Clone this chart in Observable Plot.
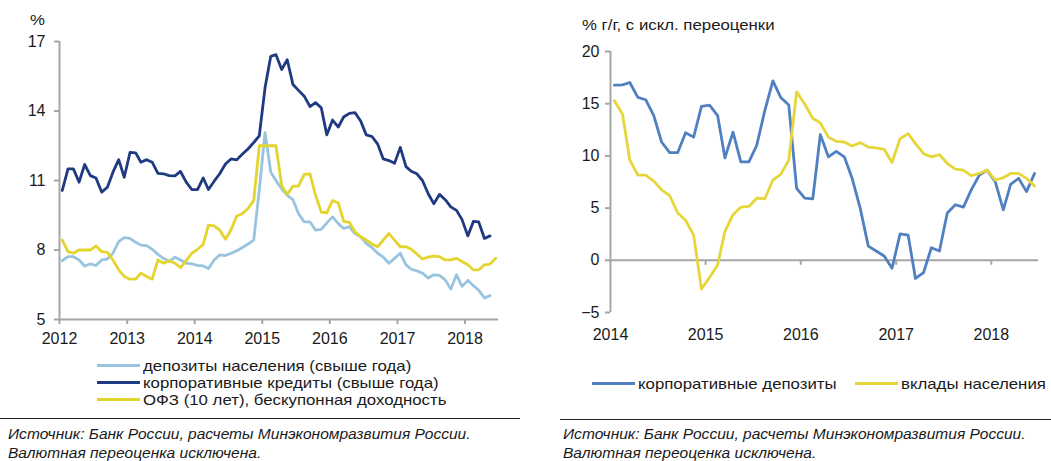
<!DOCTYPE html>
<html>
<head>
<meta charset="utf-8">
<script src="https://cdn.jsdelivr.net/npm/d3@7"></script>
<script src="https://cdn.jsdelivr.net/npm/@observablehq/plot@0.6"></script>
<style>
  html, body { margin: 0; padding: 0; background: #fff; }
  #root { position: relative; width: 1051px; height: 461px; overflow: hidden; font-family: "Liberation Sans", Arial, sans-serif; color: #1a1a1a; }
  .abs { position: absolute; white-space: nowrap; transform: scaleX(1.12); transform-origin: left center; }
  .unit { font-size: 15px; }
  .legend-row { position: absolute; display: flex; align-items: center; font-size: 15px; height: 17px; white-space: nowrap; }
  .legend-row .lbl { display: inline-block; transform: scaleX(1.12); transform-origin: left center; }
  .sw { display: inline-block; width: 43px; height: 3px; margin-right: 3px; }
  .rule { position: absolute; height: 0; border-top: 1.6px solid #222; }
  .src { position: absolute; font-style: italic; font-size: 14px; line-height: 19px; white-space: nowrap; color: #1a1a1a; transform: scaleX(1.11); transform-origin: left top; }
</style>
</head>
<body>
<div id="root"></div>
<script>
// ---------- DATA ----------
const leftYears = [2012, 2013, 2014, 2015, 2016, 2017, 2018];
const leftTicksY = [5, 8, 11, 14, 17];
const leftNames = ["депозиты населения (свыше года)", "корпоративные кредиты (свыше года)", "ОФЗ (10 лет), бескупонная доходность"];
const leftColors = ["#98c4e0", "#1f3a82", "#e4d42e"];
// monthly, from Jan 2012
const householdDeposits = [7.54,7.71,7.71,7.57,7.31,7.40,7.33,7.57,7.61,7.86,
  8.36,8.53,8.50,8.33,8.21,8.19,8.03,7.81,7.64,7.50,
  7.69,7.57,7.43,7.40,7.34,7.31,7.20,7.57,7.79,7.76,
  7.86,7.97,8.11,8.26,8.43,10.6,13.07,11.36,11.0,10.64,
  10.36,10.17,9.57,9.21,9.21,8.86,8.89,9.17,9.43,9.14,
  8.93,9.0,8.71,8.57,8.29,8.10,7.86,7.69,7.43,7.64,
  7.86,7.36,7.17,7.10,7.0,6.79,6.93,6.90,6.71,6.31,
  6.93,6.43,6.69,6.46,6.26,5.93,6.03];
const corporateCredits = [10.57,11.5,11.5,10.93,11.69,11.21,11.11,10.5,10.71,11.36,
  11.9,11.14,12.21,12.19,11.79,11.9,11.79,11.31,11.29,11.21,
  11.2,11.39,10.93,10.61,10.61,11.11,10.61,10.97,11.29,11.71,
  11.93,11.89,12.14,12.36,12.64,12.93,15.0,16.36,16.43,15.79,
  16.21,15.14,14.89,14.64,14.19,14.36,14.14,12.97,13.61,13.31,
  13.74,13.9,13.93,13.57,12.97,12.9,12.57,11.93,11.86,11.74,
  12.43,11.6,11.4,11.29,11.0,10.43,10.0,10.4,10.17,9.86,
  9.71,9.31,8.61,9.24,9.21,8.5,8.61];
const ofzYield = [8.43,7.93,7.86,8.0,8.0,8.0,8.17,7.93,7.9,7.57,
  7.14,6.86,6.74,6.74,7.0,6.86,6.74,7.57,7.43,7.54,
  7.43,7.24,7.54,7.86,8.03,8.24,9.07,9.04,8.86,8.46,
  8.86,9.47,9.57,9.79,10.14,12.5,12.5,12.5,12.5,10.79,
  10.4,10.76,10.76,11.26,11.29,10.36,9.64,9.6,10.14,10.03,
  9.24,9.19,8.79,8.57,8.43,8.26,8.14,8.43,8.71,8.43,
  8.14,8.14,8.03,7.83,7.61,7.69,7.74,7.71,7.57,7.57,
  7.64,7.5,7.36,7.14,7.14,7.36,7.39,7.64];

const rightYears = [2014, 2015, 2016, 2017, 2018];
const rightTicksY = [-5, 0, 5, 10, 15, 20];
const rightNames = ["корпоративные депозиты", "вклады населения"];
const rightColors = ["#5080c2", "#e6d63a"];
// monthly, from Jan 2014
const corporateDeposits = [16.77,16.8,17.03,15.6,15.38,13.86,11.33,10.32,10.32,12.22,
  11.8,14.75,14.87,13.86,9.81,12.28,9.43,9.43,11.01,14.34,
  17.18,15.6,14.87,6.9,5.95,5.89,12.03,9.91,10.44,9.91,
  7.85,5.0,1.36,0.89,0.41,-0.76,2.53,2.41,-1.74,-1.17,
  1.2,0.89,4.53,5.32,5.09,6.74,8.16,8.64,7.53,4.84,
  7.28,7.85,6.58,8.32];
const householdSavings = [15.28,14.02,9.59,8.16,8.16,7.59,6.74,6.2,4.53,3.83,
  2.41,-2.75,-1.65,-0.44,2.78,4.37,5.09,5.16,5.95,5.89,
  7.69,8.23,9.59,16.14,14.97,13.61,13.16,11.8,11.39,11.33,
  10.95,11.27,10.85,10.76,10.63,9.37,11.65,12.12,11.17,10.22,
  9.91,10.13,9.27,8.73,8.64,8.1,8.32,8.64,7.69,7.91,
  8.32,8.32,7.85,7.12];

const leftUnit = "%";
const rightUnit = "% г/г, с искл. переоценки";
const sourceLines = ["Источник: Банк России, расчеты Минэкономразвития России.", "Валютная переоценка исключена."];

// ---------- HELPERS ----------
const toSeries = (vals, y0) => vals.map((v, i) => ({date: new Date(Date.UTC(y0, i, 16)), value: v}));
const yearDate = y => new Date(Date.UTC(y, 0, 1));
const FONT = '"Liberation Sans", Arial, sans-serif';
const AXIS = "#a6a6a6";
const TEXT = "#1a1a1a";

const root = document.getElementById("root");
function addDiv(cls, css, html) {
  const d = document.createElement("div");
  d.className = cls;
  Object.assign(d.style, css);
  if (html !== undefined) d.innerHTML = html;
  root.appendChild(d);
  return d;
}

// ---------- LEFT CHART ----------
const leftSeries = [householdDeposits, corporateCredits, ofzYield].map(v => toSeries(v, 2012));
const leftPlot = Plot.plot({
  width: 520, height: 345,
  marginLeft: 59, marginRight: 22, marginTop: 41, marginBottom: 26,
  style: {fontFamily: FONT, fontSize: "16px", color: TEXT, background: "transparent", overflow: "visible"},
  x: {type: "utc", domain: [yearDate(2012), new Date(Date.UTC(2018, 6, 1))]},
  y: {domain: [5, 17]},
  marks: [
    Plot.ruleY([5], {stroke: AXIS, strokeWidth: 2}),
    Plot.ruleX([yearDate(2012)], {stroke: AXIS, strokeWidth: 2}),
    Plot.axisY({ticks: leftTicksY, tickSize: 5, tickPadding: 9, stroke: AXIS, strokeWidth: 2, fill: TEXT, label: null, fontSize: 16}),
    Plot.axisX({ticks: leftYears.map(yearDate), tickSize: 5, tickPadding: 8, tickFormat: "%Y", stroke: AXIS, strokeWidth: 2, fill: TEXT, label: null, fontSize: 16}),
    ...leftSeries.map((s, i) => Plot.line(s, {x: "date", y: "value", stroke: leftColors[i], strokeWidth: 2.8, strokeLinejoin: "round"}))
  ]
});
leftPlot.style.position = "absolute";
leftPlot.style.left = "0px";
leftPlot.style.top = "0px";
root.appendChild(leftPlot);

// ---------- RIGHT CHART ----------
const rightSeries = [corporateDeposits, householdSavings].map(v => toSeries(v, 2014));
const rightPlot = Plot.plot({
  width: 511, height: 345,
  marginLeft: 70, marginRight: 13, marginTop: 51, marginBottom: 33,
  style: {fontFamily: FONT, fontSize: "16px", color: TEXT, background: "transparent", overflow: "visible"},
  x: {type: "utc", domain: [yearDate(2014), new Date(Date.UTC(2018, 6, 1))]},
  y: {domain: [-5, 20]},
  marks: [
    Plot.ruleY([0], {stroke: AXIS, strokeWidth: 2}),
    Plot.ruleX([yearDate(2014)], {stroke: AXIS, strokeWidth: 2}),
    Plot.ruleX(rightYears.slice(1).map(yearDate), {x: d => d, y1: 0, y2: 0, insetBottom: -5, stroke: AXIS, strokeWidth: 2}),
    Plot.axisY({ticks: rightTicksY, tickSize: 5, tickPadding: 6, stroke: AXIS, strokeWidth: 2, fill: TEXT, label: null, fontSize: 16}),
    Plot.axisX({ticks: rightYears.map(yearDate), tickSize: 0, tickPadding: 16, tickFormat: "%Y", fill: TEXT, label: null, fontSize: 16}),
    ...rightSeries.map((s, i) => Plot.line(s, {x: "date", y: "value", stroke: rightColors[i], strokeWidth: 2.8, strokeLinejoin: "round"}))
  ]
});
rightPlot.style.position = "absolute";
rightPlot.style.left = "540px";
rightPlot.style.top = "0px";
root.appendChild(rightPlot);

// ---------- TEXTS ----------
addDiv("abs unit", {left: "30px", top: "11px"}, leftUnit);
addDiv("abs unit", {left: "582px", top: "16px"}, rightUnit);

// left legend
leftNames.forEach((n, i) => {
  addDiv("legend-row", {left: "97px", top: (357 + i * 17) + "px"},
    `<span class="sw" style="background:${leftColors[i]}"></span><span class="lbl">${n}</span>`);
});
// right legend
const rightLegendX = [592, 855];
rightNames.forEach((n, i) => {
  addDiv("legend-row", {left: rightLegendX[i] + "px", top: "375px"},
    `<span class="sw" style="background:${rightColors[i]}"></span><span class="lbl">${n}</span>`);
});

// rules and sources
addDiv("rule", {left: "0px", top: "418px", width: "520px"});
addDiv("rule", {left: "560px", top: "419px", width: "491px"});
addDiv("src", {left: "8px", top: "425px"}, sourceLines.join("<br>"));
addDiv("src", {left: "563px", top: "425px"}, sourceLines.join("<br>"));
</script>
</body>
</html>
